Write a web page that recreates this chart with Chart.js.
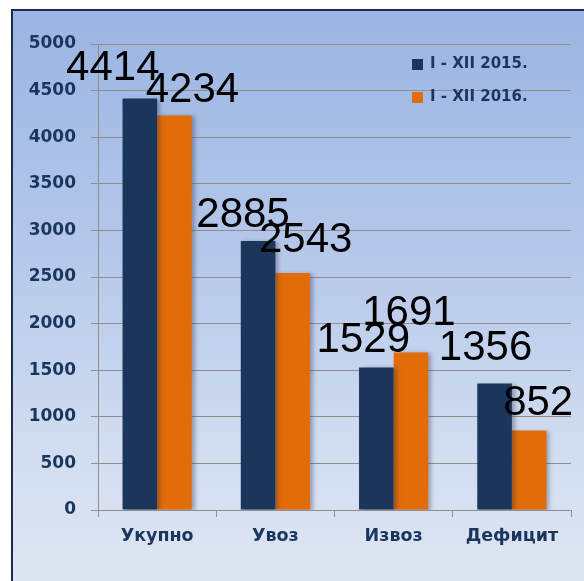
<!DOCTYPE html>
<html>
<head>
<meta charset="utf-8">
<script src="https://cdn.jsdelivr.net/npm/chart.js@4.4.1/dist/chart.umd.min.js"></script>
<style>
    html, body { margin: 0; padding: 0; background: #fff; overflow: hidden; }
    body { width: 584px; height: 581px; position: relative; }
    .clip { position: absolute; left: 0; top: 0; width: 584px; height: 581px; overflow: hidden; }
    .frame {
        position: absolute; left: 11px; top: 9px; width: 700px; height: 700px;
        border-left: 2px solid #1b2d4b; border-top: 2px solid #1b2d4b;
        background: linear-gradient(#9ab5e2 0px, #b4c7ea 230px, #d0dcf0 430px, #dfe6f3 572px, #dfe6f3 700px);
    }
    #chart { position: absolute; left: 0; top: 0; }
</style>
</head>
<body>
<div class="clip"><div class="frame"></div></div>
<canvas id="chart" width="584" height="581"></canvas>
<script>
const categories = ['Укупно', 'Увоз', 'Извоз', 'Дефицит'];
const seriesNames = ['I - XII 2015.', 'I - XII 2016.'];
const values2015 = [4414, 2885, 1529, 1356];
const values2016 = [4234, 2543, 1691, 852];
const yTicks = [0, 500, 1000, 1500, 2000, 2500, 3000, 3500, 4000, 4500, 5000];

// hand placement of the big value labels, as in the original slide
const labelDx = [[-27, -15, -13, -9], [18, 13, -2, 9]];
const labelGap = [[19, 14, 15, 24], [13, 21, 27, 16]];

const navy = '#1b365d';
const orange = '#e36c0a';
const textBlue = '#1a365e';
const gridGray = '#8e8e8e';

const barLook = {
    id: 'barLook',
    beforeDatasetsDraw(chart) {
        const c = chart.ctx;
        c.save();
        c.shadowColor = 'rgba(40, 40, 60, 0.35)';
        c.shadowBlur = 4;
        c.shadowOffsetX = 3;
        c.shadowOffsetY = 1;
    },
    afterDatasetsDraw(chart) {
        const c = chart.ctx;
        c.restore();
        c.save();
        c.font = '42px "Liberation Sans", Arial, sans-serif';
        c.fillStyle = '#000';
        c.textAlign = 'center';
        c.textBaseline = 'alphabetic';
        chart.data.datasets.forEach((ds, i) => {
            chart.getDatasetMeta(i).data.forEach((bar, j) => {
                c.fillText(String(ds.data[j]), bar.x + labelDx[i][j], bar.y - labelGap[i][j]);
            });
        });
        c.restore();
    },
    afterDraw(chart) {
        // legend inside the plot, top right
        const c = chart.ctx;
        c.save();
        c.font = 'bold 15px "DejaVu Sans", Verdana, sans-serif';
        c.textBaseline = 'middle';
        chart.data.datasets.forEach((ds, i) => {
            const y = 64 + i * 33;
            c.fillStyle = ds.backgroundColor;
            c.fillRect(412, y - 5, 11, 11);
            c.fillStyle = textBlue;
            c.fillText(ds.label, 430, y);
        });
        c.restore();
    }
};

new Chart(document.getElementById('chart'), {
    type: 'bar',
    data: {
        labels: categories,
        datasets: [
            { label: seriesNames[0], data: values2015, backgroundColor: navy },
            { label: seriesNames[1], data: values2016, backgroundColor: orange }
        ]
    },
    options: {
        responsive: false,
        animation: false,
        events: [],
        layout: { padding: { left: 0, top: 44, right: 13, bottom: 0 } },
        datasets: {
            bar: { categoryPercentage: 0.585, barPercentage: 1.0 }
        },
        plugins: {
            legend: { display: false },
            tooltip: { enabled: false }
        },
        scales: {
            x: {
                offset: true,
                afterFit(scale) { scale.height = 71; },
                grid: { display: true, drawOnChartArea: false, offset: true, color: gridGray, tickLength: 7 },
                border: { color: gridGray },
                ticks: {
                    color: textBlue,
                    padding: 9,
                    font: { family: '"DejaVu Sans", Verdana, sans-serif', size: 17.5, weight: 'bold' }
                }
            },
            y: {
                min: 0,
                max: 5000,
                afterFit(scale) { scale.width = 98; },
                afterBuildTicks(scale) { scale.ticks = yTicks.map(v => ({ value: v })); },
                grid: { color: gridGray, tickLength: 7 },
                border: { color: gridGray },
                ticks: {
                    color: textBlue,
                    padding: 15,
                    callback: v => String(v),
                    font: { family: '"DejaVu Sans", Verdana, sans-serif', size: 17, weight: 'bold' }
                }
            }
        }
    },
    plugins: [barLook]
});
</script>
</body>
</html>
